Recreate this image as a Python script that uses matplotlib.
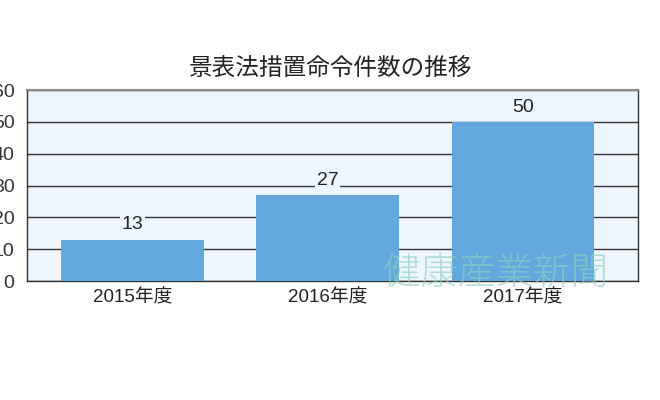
import matplotlib
matplotlib.use("Agg")
import matplotlib.pyplot as plt

plt.rcParams['font.family'] = ['Liberation Sans', 'Noto Sans CJK JP', 'DejaVu Sans']

title = "景表法措置命令件数の推移"
categories = ["2015年度", "2016年度", "2017年度"]
values = [13, 27, 50]
yticks = [0, 10, 20, 30, 40, 50, 60]
watermark = "健康産業新聞"

bg = '#eef6fd'
fig = plt.figure(figsize=(6.6, 4.0), dpi=100)
ax = fig.add_axes([27/660, 1-281/400, (638-27)/660, (281-90)/400])
ax.set_facecolor(bg)
x = list(range(len(categories)))
bars = ax.bar(x, values, width=0.73, color='#62a8dc', zorder=3)
for xi, v in zip(x, values):
    ax.text(xi, v + 3.2, str(v), ha='center', va='baseline', fontsize=14, color='#222222', zorder=4,
            bbox=dict(facecolor=bg, edgecolor='none', pad=1.0))
ax.set_xlim(-0.541, 2.59)
ax.set_ylim(0, 60)
ax.set_yticks(yticks)
ax.set_yticklabels([str(t) for t in yticks], fontsize=14, color='#333333')
ax.set_xticks(x)
ax.set_xticklabels(categories, fontsize=13.5, color='#222222')
ax.tick_params(axis='both', length=0)
ax.tick_params(axis='y', pad=9)
ax.tick_params(axis='x', pad=6)
ax.yaxis.grid(True, color='#333333', linewidth=1.0, zorder=1)
ax.set_axisbelow(True)
for s in ['left', 'right', 'bottom']:
    ax.spines[s].set_color('#333333')
    ax.spines[s].set_linewidth(1.0)
ax.spines['top'].set_color('#888888')
ax.spines['top'].set_linewidth(1.5)
fig.text(331/660, 1-68/400, title, ha='center', va='center', fontsize=17, color='#222222',
         family=['Noto Sans CJK JP'])
fig.text(496/660, 1-273/400, watermark, ha='center', va='center', fontsize=27,
         color='#8fcfc0', alpha=0.65, fontweight='light', family=['Noto Sans CJK JP'])
fig.savefig("out.png", dpi=100)
